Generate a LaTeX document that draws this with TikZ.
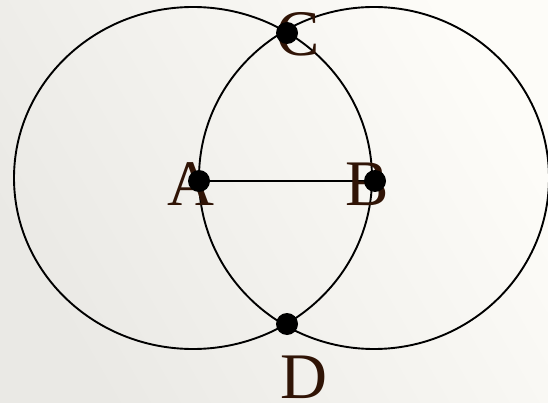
\documentclass[tikz,border=0pt]{standalone}
\usepackage{fontspec}
\setmainfont{Liberation Serif}
\usepackage{tikz}
\definecolor{labelbrown}{RGB}{48,20,6}
\definecolor{paperlight}{RGB}{253,252,248}
\definecolor{paperdark}{RGB}{234,233,229}

\begin{document}
\begin{tikzpicture}[x=1pt, y=-1pt,
    dot/.style={circle, fill=black, inner sep=0pt, minimum size=22pt},
    lbl/.style={anchor=base, text=labelbrown, font=\fontsize{65}{65}\selectfont, inner sep=0pt},
    arc/.style={line width=1.9pt}]
    \useasboundingbox (0,0) rectangle (548,403);

    % Paper background
    \shade[left color=paperdark, right color=paperlight, shading angle=120] (0,0) rectangle (548,403);

    % Points
    \coordinate (A) at (199,181);
    \coordinate (B) at (375,181);
    \coordinate (C) at (287,33);
    \coordinate (D) at (287,324);

    % Circles
    \draw[arc] (193,178) ellipse [x radius=179, y radius=171];
    \draw[arc] (374,178) ellipse [x radius=175, y radius=171];

    % Segment AB
    \draw[line width=1.6pt] (A) -- (B);

    % Labels
    \node[lbl] (labA) at (191,206) {A};
    \node[lbl] (labB) at (367,206) {B};
    \node[lbl] (labC) at (298,56) {C};
    \node[lbl] (labD) at (304,398) {D};

    % Dots
    \node[dot] (dotA) at (A) {};
    \node[dot] (dotB) at (B) {};
    \node[dot] (dotC) at (C) {};
    \node[dot] (dotD) at (D) {};
\end{tikzpicture}
\end{document}
